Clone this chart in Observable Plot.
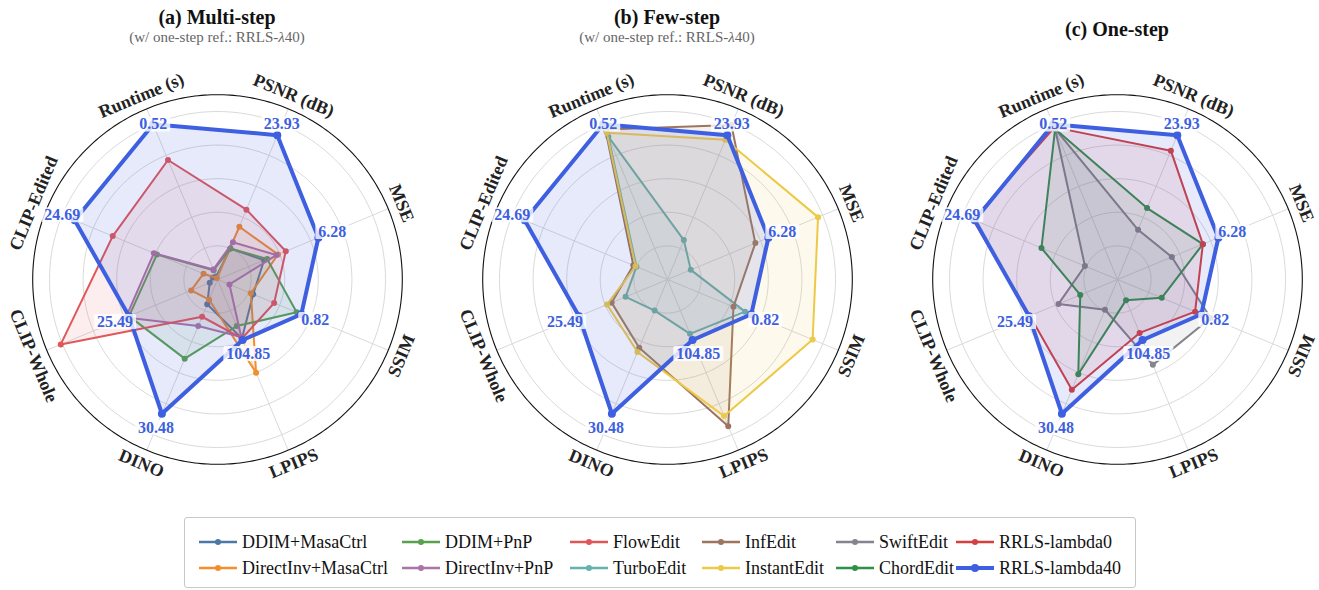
<!DOCTYPE html>
<html><head><meta charset="utf-8">
<script src="https://cdn.jsdelivr.net/npm/d3@7"></script>
<script src="https://cdn.jsdelivr.net/npm/@observablehq/plot@0.6"></script>
<style>
body{margin:0;background:#fff;font-family:"Liberation Serif","Times New Roman",serif;}
#root{position:relative;width:1319px;height:590px;overflow:hidden;background:#fff;}
.title{position:absolute;width:440px;text-align:center;font-weight:bold;font-size:20px;line-height:20px;color:#111;}
.sub{position:absolute;width:440px;text-align:center;font-size:15px;line-height:15px;color:#666;}
.panel{position:absolute;top:54px;}
#legend{position:absolute;left:184px;top:517px;width:952px;height:71px;border:1.5px solid #c8c8c8;border-radius:3px;box-sizing:border-box;background:#fff;}
.item{position:absolute;display:flex;align-items:center;font-size:18px;line-height:18px;color:#111;white-space:nowrap;}
.item svg{margin-right:4px;}
</style></head>
<body><div id="root"></div>
<script>
// ---- data ----
const axes = ["Runtime (s)", "PSNR (dB)", "MSE", "SSIM", "LPIPS", "DINO", "CLIP-Whole", "CLIP-Edited"];
const lambda40Labels = ["0.52", "23.93", "6.28", "0.82", "104.85", "30.48", "25.49", "24.69"];
const gridLevels = [0.2, 0.4, 0.6, 0.8, 1.0];
const outerLevel = 1.1;

// normalized radii (per axis)
const ddimMasaCtrl      = [0.02, 0.20, 0.30, 0.23, 0.38, 0.16, 0.05, 0.03];
const directInvMasaCtrl = [0.01, 0.34, 0.39, 0.215, 0.60, 0.13, 0.17, 0.09];
const ddimPnP           = [0.06, 0.20, 0.32, 0.51, 0.30, 0.51, 0.57, 0.39];
const directInvPnP      = [0.065, 0.24, 0.38, 0.077, 0.37, 0.30, 0.59, 0.41];
const flowEdit          = [0.77, 0.45, 0.44, 0.365, 0.38, 0.24, 1.01, 0.675];
const turboEdit         = [0.92, 0.254, 0.15, 0.50, 0.35, 0.20, 0.27, 0.20];
const infEdit           = [0.967, 0.995, 0.566, 0.425, 0.945, 0.44, 0.36, 0.22];
const instantEdit       = [0.945, 0.90, 0.97, 0.935, 0.88, 0.467, 0.39, 0.206];
const swiftEdit         = [0.97, 0.32, 0.35, 0.60, 0.55, 0.195, 0.38, 0.21];
const chordEdit         = [0.97, 0.46, 0.55, 0.285, 0.133, 0.61, 0.24, 0.49];
const rrlsLambda0       = [0.98, 0.83, 0.55, 0.50, 0.344, 0.71, 0.565, 0.93];
const rrlsLambda40      = [1.0, 0.93, 0.65, 0.54, 0.39, 0.865, 0.57, 0.92];

const methodNames = ["DDIM+MasaCtrl", "DirectInv+MasaCtrl", "DDIM+PnP", "DirectInv+PnP", "FlowEdit", "TurboEdit",
  "InfEdit", "InstantEdit", "SwiftEdit", "ChordEdit", "RRLS-lambda0", "RRLS-lambda40"];
const methodValues = [ddimMasaCtrl, directInvMasaCtrl, ddimPnP, directInvPnP, flowEdit, turboEdit,
  infEdit, instantEdit, swiftEdit, chordEdit, rrlsLambda0, rrlsLambda40];
const methodColors = ["#4c78a8", "#f28e2b", "#59a14f", "#ab73a8", "#e15759", "#66b2ad",
  "#9c755f", "#edc948", "#84848e", "#2e9148", "#d43f3f", "#3d5fe0"];

const panels = [
  {title: "(a) Multi-step", sub: true, methods: ["DDIM+MasaCtrl", "DirectInv+MasaCtrl", "DDIM+PnP", "DirectInv+PnP", "FlowEdit", "RRLS-lambda40"]},
  {title: "(b) Few-step", sub: true, methods: ["TurboEdit", "InfEdit", "InstantEdit", "RRLS-lambda40"]},
  {title: "(c) One-step", sub: false, methods: ["SwiftEdit", "ChordEdit", "RRLS-lambda0", "RRLS-lambda40"]}
];
const legendColumns = [
  ["DDIM+MasaCtrl", "DirectInv+MasaCtrl"], ["DDIM+PnP", "DirectInv+PnP"], ["FlowEdit", "TurboEdit"],
  ["InfEdit", "InstantEdit"], ["SwiftEdit", "ChordEdit"], ["RRLS-lambda0", "RRLS-lambda40"]
];

// ---- layout ----
const unitPx = 168;
const SIZE = 450;
const half = SIZE / 2 / unitPx;
const centersX = [217, 667, 1117];
const centerY = 279;
const FONT = "Liberation Serif, Times New Roman, serif";
const BLUE = methodColors[11];

const theta = i => (-22.5 + 45 * i) * Math.PI / 180;
const px = (r, i) => r * Math.sin(theta(i));
const py = (r, i) => r * Math.cos(theta(i));
const labelRot = i => { let a = -22.5 + 45 * i; if (a > 180) a -= 360; if (Math.abs(a) > 90) a = a > 0 ? a - 180 : a + 180; return a; };

const root = document.getElementById("root");

panels.forEach((p, pi) => {
  const cx = centersX[pi];
  const t = document.createElement("div");
  t.className = "title"; t.textContent = p.title;
  t.style.left = (cx - 220) + "px"; t.style.top = (p.sub ? 7 : 19) + "px";
  root.appendChild(t);
  if (p.sub) {
    const s = document.createElement("div");
    s.className = "sub";
    s.innerHTML = "(w/ one-step ref.: RRLS-<i>λ</i>40)";
    s.style.left = (cx - 220) + "px"; s.style.top = "30px";
    root.appendChild(s);
  }

  const circ = gridLevels.flatMap(level => d3.range(0, 361, 2).map(a => ({level, a})));
  const outer = d3.range(0, 361, 1).map(a => ({level: outerLevel, a}));
  const spokes = axes.map((name, i) => ({i}));

  const marks = [
    Plot.line(circ, {x: d => d.level * Math.sin(d.a * Math.PI / 180), y: d => d.level * Math.cos(d.a * Math.PI / 180), z: "level", stroke: "#dadada", strokeWidth: 1}),
    Plot.link(spokes, {x1: 0, y1: 0, x2: d => px(outerLevel, d.i), y2: d => py(outerLevel, d.i), stroke: "#dadada", strokeWidth: 1}),
    Plot.line(outer, {x: d => d.level * Math.sin(d.a * Math.PI / 180), y: d => d.level * Math.cos(d.a * Math.PI / 180), stroke: "#111", strokeWidth: 1.1})
  ];

  p.methods.forEach(m => {
    const k = methodNames.indexOf(m);
    const color = methodColors[k];
    const isMain = m === "RRLS-lambda40";
    const rows = methodValues[k].map((v, i) => ({v, i}));
    marks.push(Plot.line(rows, {x: d => px(d.v, d.i), y: d => py(d.v, d.i), curve: "linear-closed",
      stroke: color, strokeWidth: isMain ? 4 : 2, fill: color, fillOpacity: isMain ? 0.13 : 0.1, strokeLinejoin: "miter"}));
    marks.push(Plot.dot(rows, {x: d => px(d.v, d.i), y: d => py(d.v, d.i), r: isMain ? 4 : 3, fill: color}));
  });

  // value labels of the reference method
  const lab = rrlsLambda40.map((v, i) => ({v, i, label: lambda40Labels[i]}));
  marks.push(Plot.text(lab, {x: d => px(Math.min(d.v + 0.09, 1.0), d.i), y: d => py(Math.min(d.v + 0.09, 1.0), d.i),
    text: "label", fill: BLUE, fontSize: 16, fontWeight: "bold", fontFamily: FONT}));

  // axis labels
  marks.push(Plot.text(axes, {x: (d, i) => px(1.185, i), y: (d, i) => py(1.185, i), text: d => d,
    rotate: (d, i) => labelRot(i), fontSize: 18, fontWeight: "bold", fill: "#222", fontFamily: FONT}));

  const chart = Plot.plot({
    width: SIZE, height: SIZE, margin: 0,
    x: {domain: [-half, half], axis: null},
    y: {domain: [-half, half], axis: null},
    style: {background: "transparent", overflow: "visible", fontFamily: FONT},
    marks
  });
  chart.classList.add("panel");
  chart.style.left = (cx - SIZE / 2) + "px";
  chart.style.top = (centerY - SIZE / 2) + "px";
  chart.style.position = "absolute";
  root.appendChild(chart);

  // white semi-transparent boxes behind the value labels
  const ns = "http://www.w3.org/2000/svg";
  chart.querySelectorAll("text").forEach(tx => {
    if (!lambda40Labels.includes(tx.textContent)) return;
    const b = tx.getBBox();
    const r = document.createElementNS(ns, "rect");
    r.setAttribute("x", b.x - 3); r.setAttribute("y", b.y + 1);
    r.setAttribute("width", b.width + 6); r.setAttribute("height", b.height - 2);
    r.setAttribute("fill", "white"); r.setAttribute("fill-opacity", "0.8");
    r.setAttribute("rx", "1.5");
    const tr = tx.getAttribute("transform"); if (tr) r.setAttribute("transform", tr);
    tx.parentNode.insertBefore(r, tx);
  });
});

// ---- legend ----
const legend = document.createElement("div");
legend.id = "legend";
root.appendChild(legend);
const colX = [197, 400, 568, 700, 834, 954];
const rowY = [541, 567];
legendColumns.forEach((col, ci) => col.forEach((m, ri) => {
  const k = methodNames.indexOf(m);
  const color = methodColors[k];
  const isMain = m === "RRLS-lambda40";
  const it = document.createElement("div");
  it.className = "item";
  it.style.left = (colX[ci] - 184) + "px";
  it.style.top = (rowY[ri] - 517 - 10) + "px";
  it.style.height = "20px";
  it.innerHTML = `<svg width="40" height="12"><line x1="1" x2="39" y1="6" y2="6" stroke="${color}" stroke-width="${isMain ? 4 : 2.5}"/><circle cx="20" cy="6" r="${isMain ? 4 : 3}" fill="${color}"/></svg><span>${m}</span>`;
  legend.appendChild(it);
}));
</script>
</body></html>
